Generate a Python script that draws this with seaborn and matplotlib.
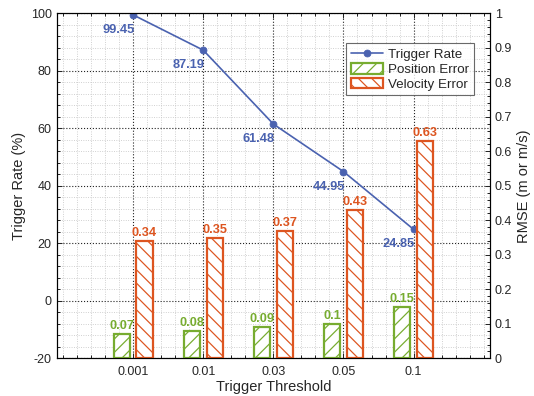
import numpy as np
import pandas as pd
import seaborn as sns
import matplotlib.pyplot as plt
import matplotlib.patches as mpatches
from matplotlib.ticker import MultipleLocator, FuncFormatter

# Data
thresholds = ['0.001', '0.01', '0.03', '0.05', '0.1']
trigger_rate = [99.45, 87.19, 61.48, 44.95, 24.85]
pos_error = [0.07, 0.08, 0.09, 0.1, 0.15]
vel_error = [0.34, 0.35, 0.37, 0.43, 0.63]

blue = '#4a62b0'
green = '#77ac30'
orange = '#dd5520'

df = pd.DataFrame({
    'threshold': thresholds * 2,
    'metric': ['Position Error'] * 5 + ['Velocity Error'] * 5,
    'rmse': pos_error + vel_error,
})

# Style (dpi 80 so the hatch spacing comes out like the original)
sns.set_style('ticks')
plt.rcParams['font.family'] = ['Liberation Sans', 'DejaVu Sans']
plt.rcParams['axes.unicode_minus'] = False
plt.rcParams['hatch.linewidth'] = 1.1
plt.rcParams['xtick.direction'] = 'in'
plt.rcParams['ytick.direction'] = 'in'

DPI = 80
fig = plt.figure(figsize=(534 / DPI, 396 / DPI), dpi=DPI)
ax = fig.add_axes([0.1062, 0.0952, 0.8114, 0.8712])
ax2 = ax.twinx()

# bars on the RMSE axis
sns.barplot(data=df, x='threshold', y='rmse', hue='metric', order=thresholds,
            palette=[green, orange], saturation=1, width=0.648, gap=0.29,
            legend=False, ax=ax2)
hatches = ['//', '\\\\']
for cont, col, h in zip(ax2.containers, [green, orange], hatches):
    for bar in cont:
        bar.set_facecolor('white')
        bar.set_edgecolor(col)
        bar.set_linewidth(2.0)
        bar.set_hatch(h)
    ax2.bar_label(cont, fmt='%g', padding=1.8, color=col, fontsize=11.5,
                  fontweight='bold')

# trigger rate line on the left axis
pos = np.arange(len(thresholds))
sns.lineplot(x=pos, y=trigger_rate, ax=ax, color=blue, marker='o', lw=1.5,
             markersize=6.2, markeredgecolor=blue, label='Trigger Rate',
             legend=False)
for x, y in zip(pos, trigger_rate):
    ax.annotate(f'{y:.2f}', (x, y), xytext=(-13.5, -13.5), textcoords='offset points',
                ha='center', va='center', color=blue, fontsize=11.5,
                fontweight='bold')

# axes
ax.set_xlim(-1.09, 5.09)
ax.set_ylim(-20, 100)
ax2.set_ylim(0, 1)
ax.set_xticks(pos)
ax.set_xticklabels(thresholds)
ax.xaxis.set_minor_locator(MultipleLocator(0.2))
ax.yaxis.set_major_locator(MultipleLocator(20))
ax.yaxis.set_minor_locator(MultipleLocator(4))
ax2.yaxis.set_major_locator(MultipleLocator(0.1))
ax2.yaxis.set_minor_locator(MultipleLocator(0.02))
ax2.yaxis.set_major_formatter(FuncFormatter(lambda v, p: f'{v:g}'))

for a in (ax, ax2):
    a.tick_params(which='both', labelsize=11.3, width=0.9, pad=4.5)
    a.tick_params(which='major', length=4.4)
    a.tick_params(which='minor', length=2.5)
ax.tick_params(which='both', top=True)
ax.tick_params(axis='x', pad=6.5)

ax.grid(which='major', ls=':', color='#222222', lw=1.0)
ax.grid(which='minor', ls=':', color='#c8c8c8', lw=0.8)
ax2.grid(False)
ax.set_axisbelow(True)

ax.set_xlabel('Trigger Threshold', fontsize=13.2, labelpad=2)
ax.set_ylabel('Trigger Rate (%)', fontsize=13.2)
ax2.set_ylabel('RMSE (m or m/s)', fontsize=13.2)
ax2.set_xlabel('')

for a in (ax, ax2):
    for s in a.spines.values():
        s.set_linewidth(1.0)
        s.set_color('black')

# legend
handles = [
    ax.get_lines()[0],
    mpatches.Patch(facecolor='white', edgecolor=green, hatch='//', lw=2.0,
                   label='Position Error'),
    mpatches.Patch(facecolor='white', edgecolor=orange, hatch='\\\\', lw=2.0,
                   label='Velocity Error'),
]
leg = ax2.legend(handles=handles, loc='upper right', bbox_to_anchor=(0.963, 0.913),
                 borderaxespad=0, fontsize=12, frameon=True, fancybox=False,
                 handlelength=2.4, handleheight=0.85, labelspacing=0.15,
                 borderpad=0.35, handletextpad=0.4)
leg.get_frame().set_edgecolor('#444444')
leg.get_frame().set_linewidth(1.0)

fig.savefig('out.png', dpi=DPI)
